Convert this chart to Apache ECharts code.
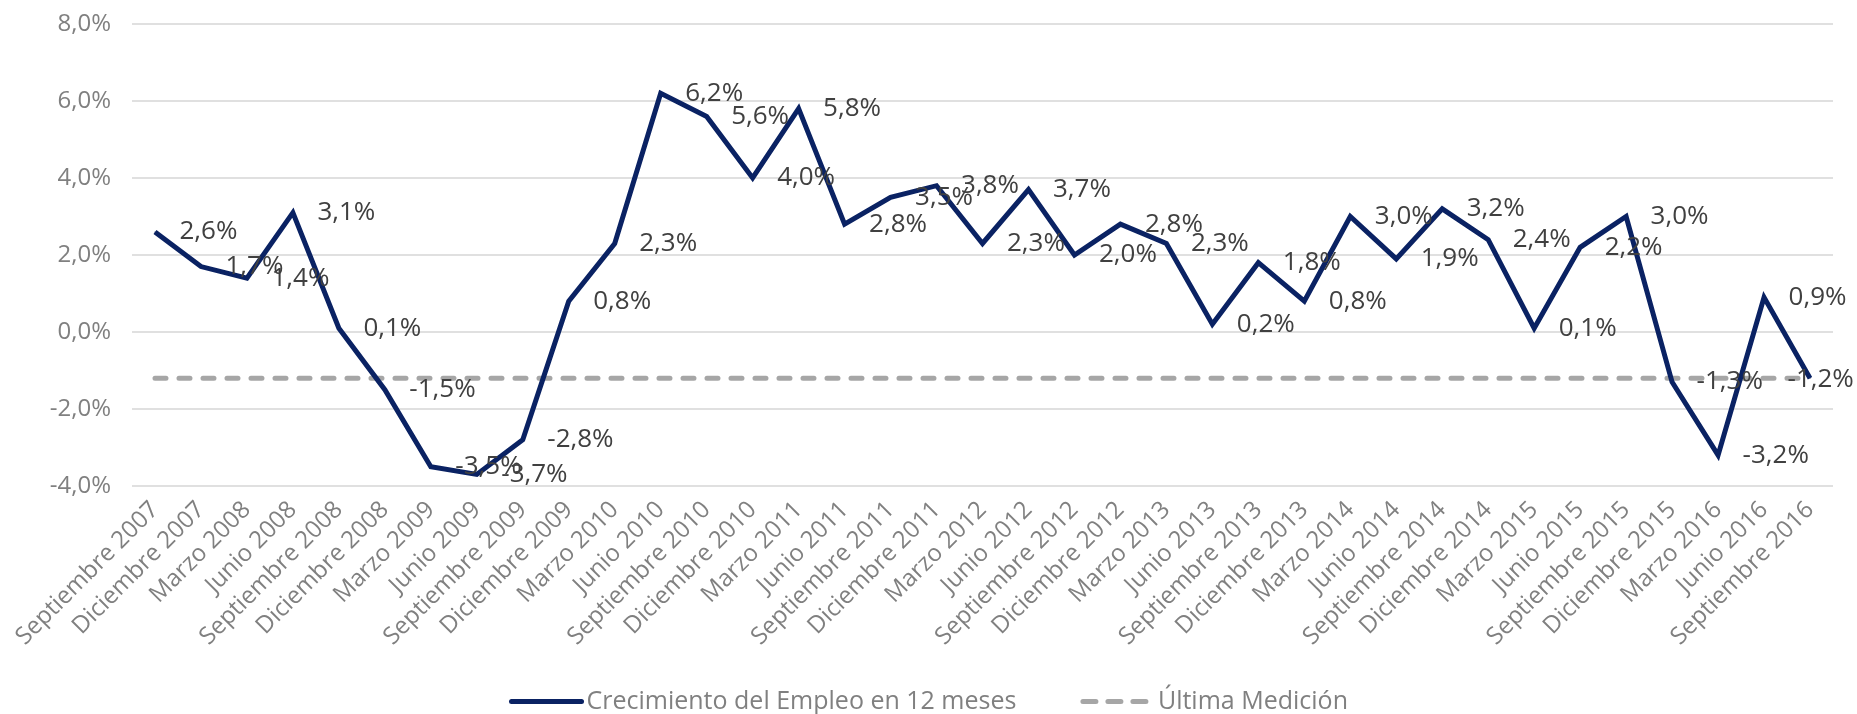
<!DOCTYPE html>
<html>
<head>
<meta charset="utf-8">
<script src="https://cdn.jsdelivr.net/npm/echarts@6/dist/echarts.min.js"></script>
<style>
html,body{margin:0;padding:0;background:#fff;}
#chart{width:1857px;height:714px;}
</style>
</head>
<body>
<div id="chart"></div>
<script>
const categories = [
  'Septiembre 2007','Diciembre 2007','Marzo 2008','Junio 2008','Septiembre 2008','Diciembre 2008',
  'Marzo 2009','Junio 2009','Septiembre 2009','Diciembre 2009','Marzo 2010','Junio 2010',
  'Septiembre 2010','Diciembre 2010','Marzo 2011','Junio 2011','Septiembre 2011','Diciembre 2011',
  'Marzo 2012','Junio 2012','Septiembre 2012','Diciembre 2012','Marzo 2013','Junio 2013',
  'Septiembre 2013','Diciembre 2013','Marzo 2014','Junio 2014','Septiembre 2014','Diciembre 2014',
  'Marzo 2015','Junio 2015','Septiembre 2015','Diciembre 2015','Marzo 2016','Junio 2016','Septiembre 2016'
];
const crecimientoEmpleo = [
  2.6, 1.7, 1.4, 3.1, 0.1, -1.5,
  -3.5, -3.7, -2.8, 0.8, 2.3, 6.2,
  5.6, 4.0, 5.8, 2.8, 3.5, 3.8,
  2.3, 3.7, 2.0, 2.8, 2.3, 0.2,
  1.8, 0.8, 3.0, 1.9, 3.2, 2.4,
  0.1, 2.2, 3.0, -1.3, -3.2, 0.9, -1.2
];
const ultimaMedicion = [
  -1.2, -1.2, -1.2, -1.2, -1.2, -1.2,
  -1.2, -1.2, -1.2, -1.2, -1.2, -1.2,
  -1.2, -1.2, -1.2, -1.2, -1.2, -1.2,
  -1.2, -1.2, -1.2, -1.2, -1.2, -1.2,
  -1.2, -1.2, -1.2, -1.2, -1.2, -1.2,
  -1.2, -1.2, -1.2, -1.2, -1.2, -1.2, -1.2
];
const seriesNames = ['Crecimiento del Empleo en 12 meses', 'Última Medición'];
const yTicks = { min: -4, max: 8, interval: 2 };

const FONT = '"Open Sans", "DejaVu Sans", sans-serif';
const NAVY = '#0a2263';
const GRAY = '#a6a6a6';
const pct = v => Number(v).toFixed(1).replace('.', ',') + '%';

// last label is pulled back inside the plot area (as in the original)
const lastIdx = crecimientoEmpleo.length - 1;
const mainData = crecimientoEmpleo.map((v, i) => i === lastIdx
  ? { value: v, label: { position: [-22, 2], align: 'left', verticalAlign: 'middle' } }
  : v);

const chart = echarts.init(document.getElementById('chart'), null, { renderer: 'canvas' });
chart.setOption({
  animation: false,
  backgroundColor: '#ffffff',
  textStyle: { fontFamily: FONT },
  grid: { left: 132, right: 24, top: 24, bottom: 228, containLabel: false },
  legend: {
    top: 684,
    left: 'center',
    itemWidth: 70,
    itemHeight: 14,
    itemGap: 64,
    textStyle: { fontSize: 25, color: '#808080', fontFamily: FONT },
    itemStyle: { opacity: 0 },
    data: [
      { name: seriesNames[0], lineStyle: { color: NAVY, width: 5, cap: 'round' } },
      { name: seriesNames[1], lineStyle: { color: GRAY, width: 5, type: [13, 12], cap: 'round' } }
    ]
  },
  xAxis: {
    type: 'category',
    data: categories,
    boundaryGap: true,
    axisLine: { show: false },
    axisTick: { show: false },
    axisLabel: {
      interval: 0,
      rotate: 45,
      margin: 20,
      fontSize: 24,
      color: '#808080',
      fontFamily: FONT
    }
  },
  yAxis: {
    type: 'value',
    min: yTicks.min,
    max: yTicks.max,
    interval: yTicks.interval,
    axisLine: { show: false },
    axisTick: { show: false },
    splitLine: { lineStyle: { color: '#e0e0e0', width: 2 } },
    axisLabel: {
      formatter: v => pct(v),
      fontSize: 24,
      color: '#808080',
      margin: 21,
      fontFamily: FONT
    }
  },
  series: [
    {
      name: seriesNames[0],
      type: 'line',
      data: mainData,
      symbol: 'circle',
      symbolSize: 1,
      showSymbol: true,
      showAllSymbol: true,
      z: 3,
      itemStyle: { color: NAVY },
      lineStyle: { color: NAVY, width: 5, join: 'miter' },
      label: {
        show: true,
        position: 'right',
        distance: 24,
        formatter: p => pct(p.value),
        fontSize: 26,
        color: '#404040',
        fontFamily: FONT
      }
    },
    {
      name: seriesNames[1],
      type: 'line',
      data: ultimaMedicion,
      symbol: 'none',
      z: 2,
      itemStyle: { color: GRAY },
      lineStyle: { color: GRAY, width: 5, type: [11, 13], cap: 'round' }
    }
  ]
});
</script>
</body>
</html>
